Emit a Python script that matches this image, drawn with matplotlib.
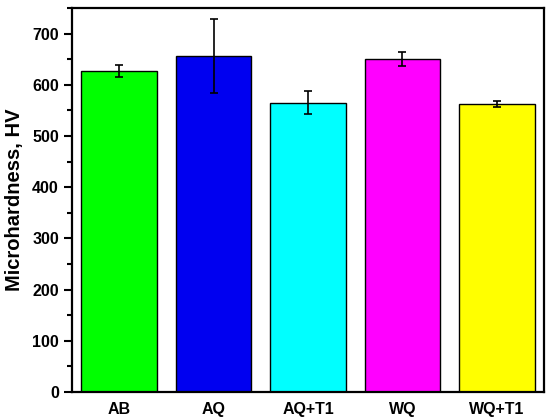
import matplotlib
matplotlib.use("Agg")
import matplotlib.pyplot as plt
from matplotlib.ticker import MultipleLocator

# data
samples = ["AB", "AQ", "AQ+T1", "WQ", "WQ+T1"]
hardness = [627, 656, 565, 650, 562]
hardness_err = [12, 73, 23, 14, 6]
bar_colors = ["#00FF00", "#0000F0", "#00FFFF", "#FF00FF", "#FFFF00"]

plt.rcParams["font.family"] = ["Liberation Sans", "DejaVu Sans"]
plt.rcParams["font.weight"] = "bold"

fig = plt.figure(figsize=(5.5, 4.19), dpi=100)
ax = fig.add_axes([0.131, 0.0644, 0.858, 0.9166])

x = list(range(1, len(samples) + 1))
ax.bar(x, hardness, width=0.8, color=bar_colors, edgecolor="black", linewidth=1.0,
       yerr=hardness_err, capsize=3.2,
       error_kw=dict(elinewidth=1.2, capthick=1.2, ecolor="black"))

ax.set_xlim(0.5, 5.5)
ax.set_ylim(0, 750)
ax.set_xticks(x)
ax.set_xticklabels(samples, fontsize=11.5, fontweight="bold")
ax.tick_params(axis="x", length=0, pad=7)
ax.yaxis.set_major_locator(MultipleLocator(100))
ax.yaxis.set_minor_locator(MultipleLocator(50))
ax.tick_params(axis="y", which="major", direction="out", length=6, width=1.5, labelsize=11.5)
ax.tick_params(axis="y", which="minor", direction="out", length=3.5, width=1.5)
for lab in ax.get_yticklabels():
    lab.set_fontweight("bold")
for sp in ax.spines.values():
    sp.set_linewidth(1.6)

ax.set_ylabel("Microhardness, HV", fontsize=14.5, fontweight="bold", labelpad=6)

fig.savefig("out.png", dpi=100)
